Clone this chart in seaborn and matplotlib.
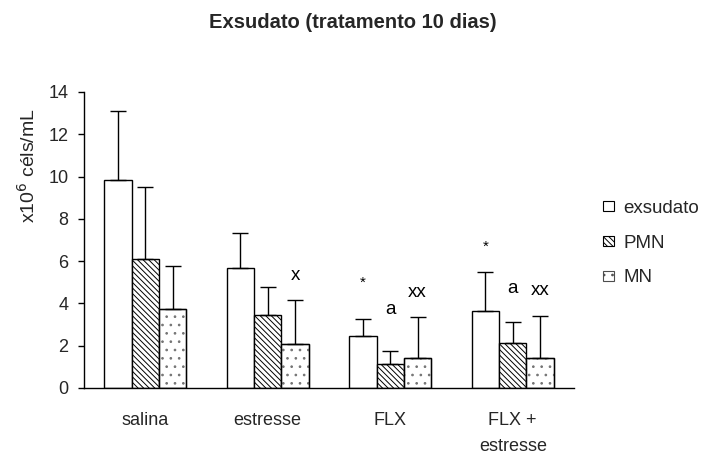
import matplotlib
matplotlib.use("Agg")
import matplotlib.pyplot as plt
from matplotlib.patches import Patch, Rectangle
import seaborn as sns
import pandas as pd
import numpy as np

categories = ["salina", "estresse", "FLX", "FLX +\nestresse"]
series = ["exsudato", "PMN", "MN"]
exsudato = [9.85, 5.68, 2.46, 3.62]
pmn = [6.10, 3.43, 1.13, 2.11]
mn = [3.72, 2.10, 1.40, 1.40]
exsudato_err_top = [13.12, 7.35, 3.25, 5.49]
pmn_err_top = [9.50, 4.78, 1.77, 3.14]
mn_err_top = [5.75, 4.18, 3.34, 3.42]
# significance labels
annot_series = ["MN", "exsudato", "PMN", "MN", "exsudato", "PMN", "MN"]
annot_cat = [1, 2, 2, 2, 3, 3, 3]
annot_text = ["x", "*", "a", "xx", "*", "a", "xx"]
annot_y = [5.3, 5.0, 3.7, 4.5, 6.7, 4.7, 4.6]
yticks = [0, 2, 4, 6, 8, 10, 12, 14]

sns.set_theme(style="white")
plt.rcParams["font.family"] = ["Liberation Sans", "DejaVu Sans"]
plt.rcParams["hatch.linewidth"] = 0.7

vals = {"exsudato": exsudato, "PMN": pmn, "MN": mn}
tops = {"exsudato": exsudato_err_top, "PMN": pmn_err_top, "MN": mn_err_top}
rows = []
for s in series:
    for c, v in zip(categories, vals[s]):
        rows.append({"cat": c, "serie": s, "val": v})
df = pd.DataFrame(rows)

fig = plt.figure(figsize=(7.07, 4.55), dpi=100)
ax = fig.add_axes([84/707, 1-388/455, (574-84)/707, (388-92)/455])
sns.barplot(data=df, x="cat", y="val", hue="serie", order=categories,
            hue_order=series, palette=["white"]*3, edgecolor="black",
            linewidth=1.0, width=0.67, gap=0, errorbar=None, ax=ax, legend=False)

hatches = ["", "\\\\\\\\\\\\", ".."]
hatch_edge = ["black", "black", "0.45"]
centers = {}
for s, cont, h, he in zip(series, ax.containers, hatches, hatch_edge):
    xs = []
    for bar in cont:
        bar.set_hatch(h)
        bar.set_facecolor("white")
        bar.set_edgecolor(he)
        if he != "black":
            ax.add_patch(Rectangle(bar.get_xy(), bar.get_width(), bar.get_height(),
                                   fill=False, edgecolor="black", linewidth=1.0, zorder=bar.get_zorder()+0.1))
        xs.append(bar.get_x() + bar.get_width()/2)
    centers[s] = xs
    v = np.array(vals[s]); t = np.array(tops[s])
    ax.errorbar(xs, v, yerr=[np.zeros_like(v), t - v], fmt="none",
                ecolor="black", elinewidth=1.0, capsize=5.6, capthick=1.0, zorder=5)

for s, ci, txt, yy in zip(annot_series, annot_cat, annot_text, annot_y):
    fs = 11 if txt == "*" else 13.5
    ax.text(centers[s][ci], yy, txt, ha="center", va="center", fontsize=fs, color="black")

ax.set_xlim(-0.5, len(categories) - 0.5)
ax.set_ylim(0, 14)
ax.set_yticks(yticks)
ax.set_yticklabels([str(t) for t in yticks], fontsize=13)
ax.set_xticks(range(len(categories)))
ax.set_xticklabels(categories, fontsize=13, linespacing=1.75)
ax.set_xticks(np.arange(-0.5, len(categories)), minor=True)
ax.tick_params(axis="x", which="major", length=0, pad=17)
ax.tick_params(axis="x", which="minor", length=3.5, width=1, color="black", direction="out")
ax.tick_params(axis="y", length=4.3, width=1, color="black", direction="out", left=True, pad=7)
for sp in ["top", "right"]:
    ax.spines[sp].set_visible(False)
for sp in ["left", "bottom"]:
    ax.spines[sp].set_color("black")
    ax.spines[sp].set_linewidth(1.0)
ax.set_xlabel("")
ax.set_ylabel("x10$^6$ céls/mL", fontsize=14)
ax.yaxis.set_label_coords(-0.092, 0.753)
ax.grid(False)

handles = [Patch(facecolor="white", edgecolor=he, hatch=h, linewidth=0.8)
           for h, he in zip(hatches, ["black", "black", "0.3"])]
fig.legend(handles, series, loc="upper left", bbox_to_anchor=(586/707, 1-183/455),
           frameon=False, fontsize=13.5, handlelength=0.6, handleheight=0.4,
           handletextpad=0.5, labelspacing=0.95)

fig.suptitle("Exsudato (tratamento 10 dias)", x=353/707, y=1-23/455, fontsize=14.5,
             fontweight="bold", va="center")

fig.savefig("out.png", dpi=100)
